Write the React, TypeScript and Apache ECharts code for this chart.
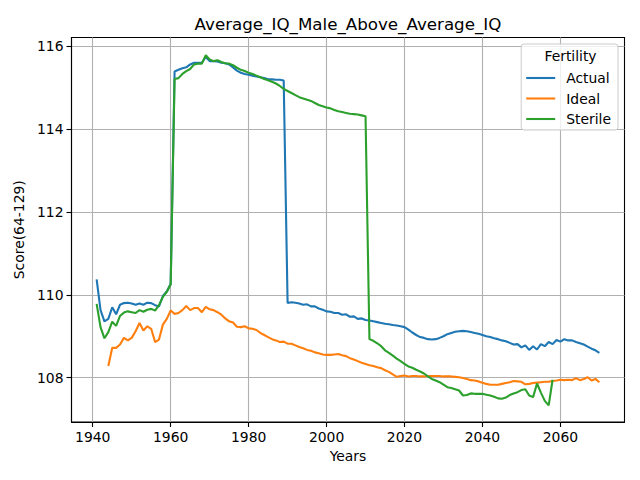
import { useEffect, useRef } from 'react';
import * as echarts from 'echarts';

// Yearly scores, one array per fertility group
const actualStart = 1941;
const actual = [
  110.37, 109.63, 109.36, 109.42, 109.7, 109.53, 109.76, 109.8, 109.81, 109.79,
  109.76, 109.79, 109.76, 109.81, 109.8, 109.75, 109.72, 109.97, 110.08, 110.27,
  115.39, 115.43, 115.47, 115.49, 115.56, 115.6, 115.6, 115.6, 115.74, 115.64,
  115.64, 115.63, 115.6, 115.59, 115.56, 115.49, 115.41, 115.36, 115.33, 115.31,
  115.29, 115.27, 115.25, 115.23, 115.2, 115.2, 115.19, 115.19, 115.17,
  109.8, 109.82, 109.81, 109.79, 109.76, 109.77, 109.72, 109.72, 109.67, 109.64,
  109.6, 109.59, 109.56, 109.56, 109.52, 109.53, 109.47, 109.48, 109.42, 109.43,
  109.39, 109.38, 109.36, 109.34, 109.32, 109.3, 109.29, 109.27, 109.26, 109.24,
  109.22, 109.16, 109.09, 109.03, 108.98, 108.96, 108.93, 108.92, 108.93, 108.96,
  109.0, 109.05, 109.08, 109.11, 109.12, 109.13, 109.12, 109.1, 109.08, 109.06,
  109.03, 109.0, 108.98, 108.95, 108.93, 108.9, 108.88, 108.84, 108.8, 108.81,
  108.73, 108.78, 108.67, 108.76, 108.68, 108.81, 108.76, 108.86, 108.81, 108.91,
  108.87, 108.93, 108.9, 108.9, 108.86, 108.83, 108.8, 108.75, 108.7, 108.66,
  108.6,
];

const idealStart = 1944;
const ideal = [
  108.28, 108.72, 108.72, 108.8, 108.96, 108.9, 108.96, 109.12, 109.32, 109.14,
  109.24, 109.18, 108.86, 108.92, 109.28, 109.42, 109.62,
  109.54, 109.56, 109.63, 109.73, 109.63, 109.68, 109.68, 109.58, 109.71, 109.65,
  109.63, 109.58, 109.52, 109.43, 109.36, 109.33, 109.23, 109.22, 109.24, 109.19,
  109.18, 109.15, 109.08, 109.03, 108.98, 108.93, 108.9, 108.86, 108.87, 108.82,
  108.82, 108.78, 108.74, 108.71, 108.67, 108.65, 108.61, 108.59, 108.56, 108.55,
  108.55, 108.56, 108.57, 108.54, 108.52, 108.47, 108.44, 108.4, 108.36, 108.33,
  108.3, 108.28, 108.25, 108.23, 108.18, 108.14, 108.08, 108.02, 108.04, 108.05,
  108.03, 108.04, 108.04, 108.03, 108.03, 108.04, 108.04, 108.04, 108.04, 108.03,
  108.03, 108.03, 108.02, 108.01, 107.99, 107.97,
  107.94, 107.93, 107.91, 107.88, 107.85, 107.83, 107.83, 107.83, 107.85, 107.87,
  107.89, 107.92, 107.91, 107.9, 107.84, 107.85, 107.87, 107.88, 107.89, 107.9,
  107.9, 107.92, 107.93, 107.95, 107.94, 107.95, 107.94, 107.99, 107.94, 107.97,
  108.01, 107.93, 107.97, 107.89,
];

const sterileStart = 1941;
const sterile = [
  109.78, 109.22, 108.95, 109.1, 109.35, 109.25, 109.49, 109.57, 109.6, 109.58,
  109.56, 109.63, 109.59, 109.64, 109.66, 109.62, 109.75, 109.95, 110.07, 110.25,
  115.21, 115.23, 115.33, 115.4, 115.45, 115.56, 115.58, 115.58, 115.78, 115.68,
  115.64, 115.66, 115.62, 115.59, 115.58, 115.54, 115.48, 115.43, 115.4, 115.36,
  115.33, 115.29, 115.25, 115.21, 115.18, 115.14, 115.1, 115.04, 114.97, 114.92,
  114.87, 114.82, 114.77, 114.74, 114.71, 114.68, 114.63, 114.58, 114.55, 114.52,
  114.5, 114.46, 114.43, 114.41, 114.39, 114.37, 114.36, 114.35, 114.33, 114.31,
  108.93, 108.89, 108.83, 108.76, 108.66, 108.6, 108.53, 108.46, 108.4, 108.33,
  108.27, 108.24, 108.19, 108.15, 108.1, 108.03, 107.97, 107.93, 107.89, 107.83,
  107.77, 107.75, 107.72, 107.69, 107.57, 107.58, 107.62, 107.61, 107.61, 107.61,
  107.59, 107.57, 107.54, 107.5, 107.49, 107.52, 107.58, 107.62, 107.65, 107.7,
  107.72, 107.57, 107.53, 107.86, 107.64, 107.44, 107.33, 107.95,
];

const xTicks = [1940, 1960, 1980, 2000, 2020, 2040, 2060];
const yTicks = [108, 110, 112, 114, 116];

const FONT = 'DejaVu Sans';

const withYears = (start: number, values: number[]) => values.map((v, i) => [start + i, v]);

const App = () => {
  const chartDom = useRef<HTMLDivElement | null>(null);

  useEffect(() => {
    if (!chartDom.current) return;
    const myChart = echarts.init(chartDom.current, null, { renderer: 'svg' });

    const line = (name: string, color: string, data: number[][]) => ({
      name,
      type: 'line',
      data,
      symbol: 'none',
      lineStyle: { color, width: 2.1 },
      itemStyle: { color },
      z: 3,
    });

    const option = {
      animation: false,
      backgroundColor: '#fff',
      textStyle: { fontFamily: FONT },
      grid: {
        left: 71.5,
        right: 15.5,
        top: 37.5,
        bottom: 58,
        show: true,
        borderColor: '#000',
        borderWidth: 1.1,
      },
      graphic: [
        {
          type: 'text',
          x: 348,
          y: 23.5,
          style: {
            text: 'Average_IQ_Male_Above_Average_IQ',
            fontFamily: FONT,
            fontSize: 16.7,
            fill: '#000',
            textAlign: 'center',
            textVerticalAlign: 'middle',
          },
        },
        {
          type: 'text',
          x: 570.5,
          y: 56,
          z: 20,
          style: {
            text: 'Fertility',
            fontFamily: FONT,
            fontSize: 13.9,
            fill: '#000',
            textAlign: 'center',
            textVerticalAlign: 'middle',
          },
        },
      ],
      legend: {
        orient: 'vertical',
        right: 22,
        top: 44,
        padding: [27, 7, 4, 5],
        icon: 'rect',
        itemWidth: 29,
        itemHeight: 2.1,
        itemGap: 6.5,
        backgroundColor: 'rgba(255,255,255,0.8)',
        borderColor: '#cccccc',
        borderWidth: 1,
        borderRadius: 3,
        textStyle: { fontFamily: FONT, fontSize: 13.9, color: '#000', padding: [0, 0, 0, 6] },
        data: ['Actual', 'Ideal', 'Sterile'],
      },
      xAxis: {
        type: 'value',
        min: 1934.55,
        max: 2076.45,
        name: 'Years',
        nameLocation: 'middle',
        nameGap: 27,
        nameTextStyle: { fontFamily: FONT, fontSize: 13.9, color: '#000' },
        axisLine: { show: true, lineStyle: { color: '#000', width: 1.1 } },
        axisTick: { show: true, length: 5, lineStyle: { color: '#000', width: 1.1 }, customValues: xTicks },
        axisLabel: {
          fontFamily: FONT,
          fontSize: 13.9,
          color: '#000',
          margin: 8,
          customValues: xTicks,
          formatter: (v: number) => String(v),
        },
        splitLine: { show: true, lineStyle: { color: '#b0b0b0', width: 1.1 } },
      },
      yAxis: {
        type: 'value',
        min: 106.93,
        max: 116.21,
        name: 'Score(64-129)',
        nameLocation: 'middle',
        nameGap: 38.5,
        nameTextStyle: { fontFamily: FONT, fontSize: 13.9, color: '#000' },
        axisLine: { show: true, lineStyle: { color: '#000', width: 1.1 } },
        axisTick: { show: true, length: 5, lineStyle: { color: '#000', width: 1.1 }, customValues: yTicks },
        axisLabel: { fontFamily: FONT, fontSize: 13.9, color: '#000', margin: 8, customValues: yTicks },
        splitLine: { show: true, lineStyle: { color: '#b0b0b0', width: 1.1 } },
      },
      series: [
        line('Actual', '#1f77b4', withYears(actualStart, actual)),
        line('Ideal', '#ff7f0e', withYears(idealStart, ideal)),
        line('Sterile', '#2ca02c', withYears(sterileStart, sterile)),
      ],
    };

    myChart.setOption(option);

    return () => {
      myChart.dispose();
    };
  }, []);

  return (
    <div style={{ position: 'fixed', left: 0, top: 0, width: 640, height: 480, background: '#fff' }}>
      <div ref={chartDom} style={{ width: '100%', height: '100%' }} />
    </div>
  );
};

export default App;
